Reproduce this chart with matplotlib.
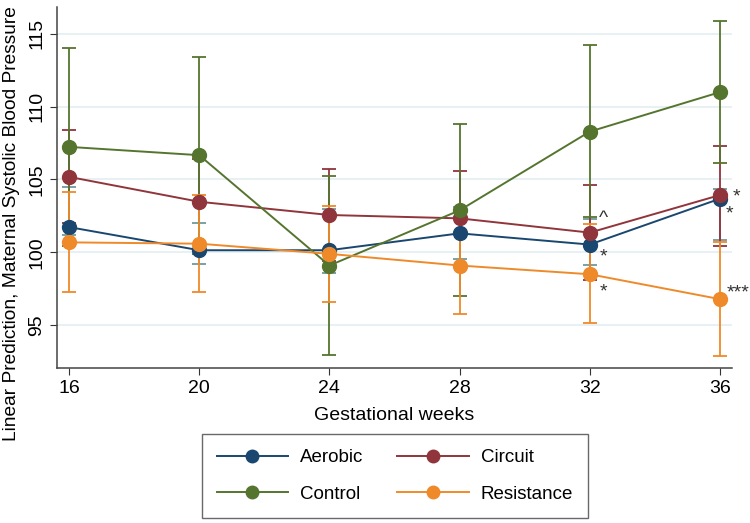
import matplotlib
matplotlib.use("Agg")
import matplotlib.pyplot as plt
from matplotlib.lines import Line2D

plt.rcParams['font.family'] = ['Liberation Sans', 'DejaVu Sans']

weeks = [16, 20, 24, 28, 32, 36]
groups = ["Aerobic", "Circuit", "Control", "Resistance"]

mean = {
    "Aerobic":    [101.73, 100.14, 100.14, 101.30, 100.53, 103.68],
    "Circuit":    [105.18, 103.47, 102.56, 102.33, 101.35, 103.93],
    "Control":    [107.24, 106.67, 99.09, 102.88, 108.29, 111.00],
    "Resistance": [100.68, 100.59, 99.89, 99.09, 98.49, 96.78],
}
lower = {
    "Aerobic":    [101.16, 99.20, 98.60, 99.52, 99.11, 100.87],
    "Circuit":    [101.98, 100.50, 99.40, 99.10, 98.09, 100.43],
    "Control":    [100.44, 99.90, 92.95, 96.97, 102.40, 106.12],
    "Resistance": [97.28, 97.26, 96.58, 95.78, 95.12, 92.88],
}
upper = {
    "Aerobic":    [104.45, 102.00, 103.00, 103.10, 102.30, 104.36],
    "Circuit":    [108.38, 106.40, 105.70, 105.57, 104.61, 107.33],
    "Control":    [114.04, 113.42, 105.25, 108.80, 114.22, 115.89],
    "Resistance": [104.16, 103.92, 103.20, 102.40, 101.94, 100.70],
}

# significance marks next to points (week, value, text)
marks = [
    (32.42, 102.3, "^"),
    (32.42, 99.7, "*"),
    (32.42, 97.3, "*"),
    (36.5, 103.8, "*"),
    (36.3, 102.6, "*"),
    (36.55, 97.2, "***"),
]

colors = {"Aerobic": "#1a476f", "Circuit": "#90353b",
          "Control": "#55752f", "Resistance": "#ef8a2a"}
ci_colors = {"Aerobic": "#6f9a9c", "Circuit": "#90353b",
             "Control": "#55752f", "Resistance": "#ef8a2a"}

fig = plt.figure(figsize=(7.5, 5.23), dpi=100)
ax = fig.add_axes([0.076, 0.2964, 0.9, 0.6902])

for g in groups:
    yerr = [[m - lo for m, lo in zip(mean[g], lower[g])],
            [up - m for m, up in zip(mean[g], upper[g])]]
    ax.errorbar(weeks, mean[g], yerr=yerr, fmt="none", ecolor=ci_colors[g],
                elinewidth=1.3, capsize=5, capthick=1.3, zorder=2)

for g in groups:
    ax.plot(weeks, mean[g], color=colors[g], lw=1.4, marker="o", ms=10,
            zorder=3)

for x, y, t in marks:
    ax.text(x, y, t, ha="center", va="center", fontsize=14, color="#333333",
            clip_on=False)

ax.set_xlim(15.63, 36.37)
ax.set_ylim(92.05, 116.85)
ax.set_xticks(weeks)
ax.set_yticks([95, 100, 105, 110, 115])
ax.set_yticklabels(["95", "100", "105", "110", "115"], rotation=90, va="center")
ax.tick_params(labelsize=14, length=5, color="#333333")
ax.grid(axis="y", color="#e3eef1", lw=1.2, zorder=0)
ax.set_axisbelow(True)
for s in ["top", "right"]:
    ax.spines[s].set_visible(False)
for s in ["left", "bottom"]:
    ax.spines[s].set_color("#444444")
    ax.spines[s].set_linewidth(1.1)

ax.set_xlabel("Gestational weeks", fontsize=14, labelpad=7)
fig.text(0.016, 0.572, "Linear Prediction, Maternal Systolic Blood Pressure",
         rotation=90, ha="center", va="center", fontsize=13.8)

# row-wise order like the reference: Aerobic, Circuit / Control, Resistance
order = ["Aerobic", "Control", "Circuit", "Resistance"]
handles = [Line2D([], [], color=colors[g], lw=1.4, marker="o", ms=9)
           for g in order]
leg = fig.legend(handles, order, ncol=2, loc="center",
                 bbox_to_anchor=(395 / 750, 1 - 476 / 523), fontsize=13.5,
                 frameon=True, fancybox=False, edgecolor="#444444",
                 handlelength=3.8, handletextpad=0.65, columnspacing=1.8,
                 labelspacing=1.05, borderpad=0.8, borderaxespad=0)
leg.get_frame().set_linewidth(1.0)

fig.savefig("out.png", dpi=100, facecolor="white")
